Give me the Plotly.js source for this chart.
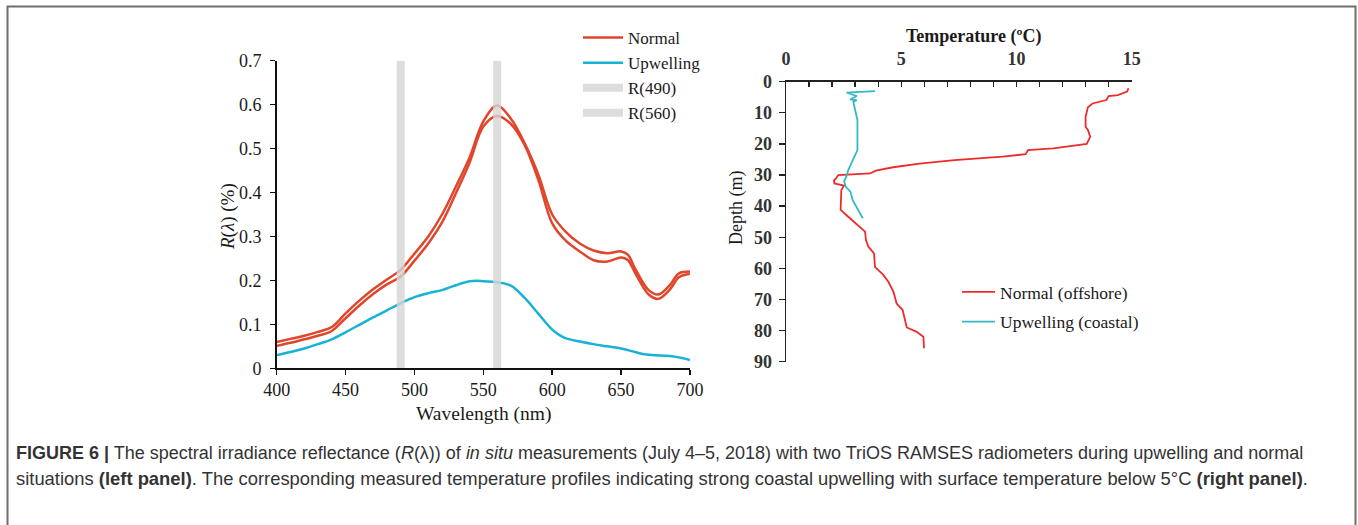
<!DOCTYPE html>
<html>
<head>
<meta charset="utf-8">
<script src="https://cdn.plot.ly/plotly-3.0.1.min.js"></script>
<style>
html,body{margin:0;padding:0;background:#fff;}
#chart{width:1358px;height:525px;}
</style>
</head>
<body>
<div id="chart"></div>
<script>
// ---- Left panel data: spectral irradiance reflectance ----
var wavelengthNormal = [400,410,420,430,440,450,460,470,480,490,500,510,520,530,540,550,560,570,580,590,600,610,620,630,640,650,655,660,670,677,685,692,700];
var normalA = [0.060,0.067,0.074,0.083,0.094,0.125,0.154,0.180,0.202,0.224,0.261,0.300,0.350,0.413,0.480,0.562,0.598,0.568,0.512,0.440,0.350,0.310,0.284,0.268,0.262,0.266,0.258,0.228,0.178,0.168,0.188,0.216,0.220];
var normalB = [0.051,0.058,0.066,0.074,0.085,0.114,0.143,0.169,0.191,0.209,0.245,0.284,0.332,0.398,0.468,0.550,0.574,0.556,0.508,0.428,0.330,0.290,0.266,0.246,0.243,0.252,0.246,0.218,0.168,0.158,0.178,0.207,0.215];
var wavelengthUpw = [400,410,420,430,440,450,460,470,480,490,500,510,520,530,540,545,550,560,570,580,590,600,605,610,620,630,640,650,660,667,680,690,700];
var upwelling = [0.030,0.037,0.045,0.055,0.066,0.082,0.099,0.116,0.132,0.148,0.162,0.171,0.178,0.189,0.198,0.199,0.198,0.196,0.188,0.160,0.124,0.088,0.076,0.068,0.061,0.055,0.050,0.045,0.037,0.032,0.029,0.026,0.019];
var band490 = {x:[490,490], y:[0,0.7]};
var band560 = {x:[560,560], y:[0,0.7]};
var leftXTicks = [400,450,500,550,600,650,700];
var leftYTicks = [0,0.1,0.2,0.3,0.4,0.5,0.6,0.7];

// ---- Right panel data: temperature profiles ----
var tempNormal = [14.86,14.8,14.4,14.0,13.9,13.3,13.1,13.0,13.0,13.1,13.2,13.05,11.6,10.5,10.4,9.4,7.3,5.8,4.65,3.9,3.65,2.27,2.17,2.08,2.1,2.52,2.4,2.37,2.37,2.7,3.07,3.43,3.47,3.57,3.82,3.86,4.22,4.44,4.66,4.8,5.06,5.16,5.24,5.67,5.96,5.99];
var depthNormal = [2.1,3.2,4.3,4.6,5.9,7.0,8.2,11.3,14.5,15.5,17.7,20.0,21.4,22.0,23.3,24.1,25.2,26.3,27.5,28.6,29.5,30.0,31.1,31.8,32.7,33.4,34.8,38.0,41.2,43.4,46.0,48.2,50.9,53.0,55.2,59.5,62.1,64.3,67.5,71.3,73.4,76.6,79.0,80.4,82.0,85.7];
var tempUpw = [3.86,2.63,3.07,2.78,3.07,2.92,3.0,3.1,3.1,3.0,2.85,2.7,2.63,2.52,2.6,2.8,2.89,3.1,3.33];
var depthUpw = [3.0,3.5,4.6,5.7,5.9,6.4,9.1,12.3,22.0,23.6,25.7,28.4,30.3,32.1,33.8,35.4,38.0,40.7,43.9];
var rightXTicks = [0,5,10,15];
var rightYTicks = [0,10,20,30,40,50,60,70,80,90];

var W = 1358, H = 525;
function px(x){return x/W;}
function py(y){return 1 - y/H;}

var serif = "Liberation Serif, Times New Roman, serif";
var sans = "Liberation Sans, Arial, sans-serif";

var traces = [
  {x: wavelengthNormal, y: normalA, name: 'Normal', type:'scatter', mode:'lines',
   line:{color:'#E0462B', width:2.5, shape:'spline', smoothing:1}, legend:'legend', xaxis:'x', yaxis:'y'},
  {x: wavelengthNormal, y: normalB, name: 'Normal', type:'scatter', mode:'lines', showlegend:false,
   line:{color:'#E0462B', width:2.5, shape:'spline', smoothing:1}, legend:'legend', xaxis:'x', yaxis:'y'},
  {x: wavelengthUpw, y: upwelling, name: 'Upwelling', type:'scatter', mode:'lines',
   line:{color:'#17B2D6', width:2.5, shape:'spline', smoothing:1}, legend:'legend', xaxis:'x', yaxis:'y'},
  {x: band490.x, y: band490.y, name: 'R(490)', type:'scatter', mode:'lines',
   line:{color:'rgba(212,212,212,0.8)', width:8}, legend:'legend', xaxis:'x', yaxis:'y'},
  {x: band560.x, y: band560.y, name: 'R(560)', type:'scatter', mode:'lines',
   line:{color:'rgba(212,212,212,0.8)', width:8}, legend:'legend', xaxis:'x', yaxis:'y'},
  {x: tempNormal, y: depthNormal, name: 'Normal (offshore)', type:'scatter', mode:'lines',
   line:{color:'#EE2B2B', width:1.8}, legend:'legend2', legendgroup:'rn', xaxis:'x2', yaxis:'y2'},
  {x: tempUpw, y: depthUpw, name: 'Upwelling (coastal)', type:'scatter', mode:'lines',
   line:{color:'#36B8C4', width:1.8}, legend:'legend2', legendgroup:'ru', xaxis:'x2', yaxis:'y2'}
];

var layout = {
  width: W, height: H,
  margin:{l:0,r:0,t:0,b:0, autoexpand:false},
  paper_bgcolor:'#fff', plot_bgcolor:'rgba(0,0,0,0)',
  showlegend:true,
  font:{family:serif, color:'#1a1a1a'},
  xaxis:{domain:[px(276.7), px(690)], range:[400,700], tickvals:leftXTicks, ticktext:leftXTicks.map(String),
    showgrid:false, zeroline:false, showline:true, linecolor:'#111', linewidth:1.5,
    ticks:'outside', ticklen:5, tickwidth:1.5, tickcolor:'#111',
    tickfont:{family:serif, size:18, color:'#1a1a1a'}, anchor:'y', fixedrange:true},
  yaxis:{domain:[py(368.3), py(60.7)], range:[0,0.7], tickvals:leftYTicks, ticktext:leftYTicks.map(function(v){return String(v);}),
    showgrid:false, zeroline:false, showline:true, linecolor:'#111', linewidth:1.5,
    ticks:'outside', ticklen:5, tickwidth:1.5, tickcolor:'#111', ticklabelstandoff:5,
    tickfont:{family:serif, size:18, color:'#1a1a1a'}, anchor:'x', fixedrange:true},
  xaxis2:{domain:[px(786), px(1131.7)], range:[0,15], side:'top', tickvals:rightXTicks, ticktext:rightXTicks.map(String),
    showgrid:false, zeroline:false, showline:true, linecolor:'#222', linewidth:1.5,
    ticks:'inside', ticklen:5, tickwidth:1.3, tickcolor:'#222', ticklabelstandoff:8,
    minor:{dtick:1, ticks:'inside', ticklen:5, tickwidth:1.3, tickcolor:'#222', showgrid:false},
    tickfont:{family:serif, size:18, color:'#333', weight:'bold'}, anchor:'y2', fixedrange:true},
  yaxis2:{domain:[py(361.7), py(81.7)], range:[90,0], tickvals:rightYTicks, ticktext:rightYTicks.map(String),
    showgrid:false, zeroline:false, showline:true, linecolor:'#222', linewidth:1.5,
    ticks:'outside', ticklen:6, tickwidth:1.3, tickcolor:'#222', ticklabelstandoff:3,
    tickfont:{family:serif, size:18, color:'#333', weight:'bold'}, anchor:'x2', fixedrange:true},
  legend:{x:px(578), y:py(20), xanchor:'left', yanchor:'top', bgcolor:'rgba(0,0,0,0)',
    font:{family:serif, size:17, color:'#1a1a1a'}, itemwidth:40, traceorder:'normal'},
  legend2:{x:px(957), y:py(274), xanchor:'left', yanchor:'top', bgcolor:'rgba(0,0,0,0)',
    font:{family:serif, size:17.5, color:'#1a1a1a'}, tracegroupgap:4, itemwidth:33, traceorder:'grouped'},
  shapes:[
    {type:'path', xref:'paper', yref:'paper', path:'M '+px(7.5)+' '+py(525)+' L '+px(7.5)+' '+py(6.5)+' L '+px(1355.5)+' '+py(6.5)+' L '+px(1355.5)+' '+py(525),
     line:{color:'#6e6e6e', width:2}}
  ],
  annotations:[
    {text:'Wavelength (nm)', xref:'paper', yref:'paper', x:px(483), y:py(414), xanchor:'center', yanchor:'middle', showarrow:false,
     font:{family:serif, size:19.5, color:'#1a1a1a'}},
    {text:'<i>R</i>(<i>λ</i>) (%)', xref:'paper', yref:'paper', x:px(228), y:py(216), xanchor:'center', yanchor:'middle', showarrow:false, textangle:-90,
     font:{family:serif, size:19, color:'#1a1a1a'}},
    {text:'<b>Temperature (ºC)</b>', xref:'paper', yref:'paper', x:px(973), y:py(36), xanchor:'center', yanchor:'middle', showarrow:false,
     font:{family:serif, size:18, color:'#1a1a1a'}},
    {text:'Depth (m)', xref:'paper', yref:'paper', x:px(736), y:py(208), xanchor:'center', yanchor:'middle', showarrow:false, textangle:-90,
     font:{family:serif, size:18, color:'#1a1a1a'}},
    {text:'<b>FIGURE 6 |</b> The spectral irradiance reflectance (<i>R</i>(λ)) of <i>in situ</i> measurements (July 4–5, 2018) with two TriOS RAMSES radiometers during upwelling and normal',
     xref:'paper', yref:'paper', x:px(14), y:py(453), xanchor:'left', yanchor:'middle', showarrow:false, align:'left',
     font:{family:sans, size:18, color:'#333'}},
    {text:'situations <b>(left panel)</b>. The corresponding measured temperature profiles indicating strong coastal upwelling with surface temperature below 5°C <b>(right panel)</b>.',
     xref:'paper', yref:'paper', x:px(14), y:py(478), xanchor:'left', yanchor:'middle', showarrow:false, align:'left',
     font:{family:sans, size:18.4, color:'#333'}}
  ]
};

Plotly.newPlot('chart', traces, layout, {displayModeBar:false, staticPlot:true});
</script>
</body>
</html>
